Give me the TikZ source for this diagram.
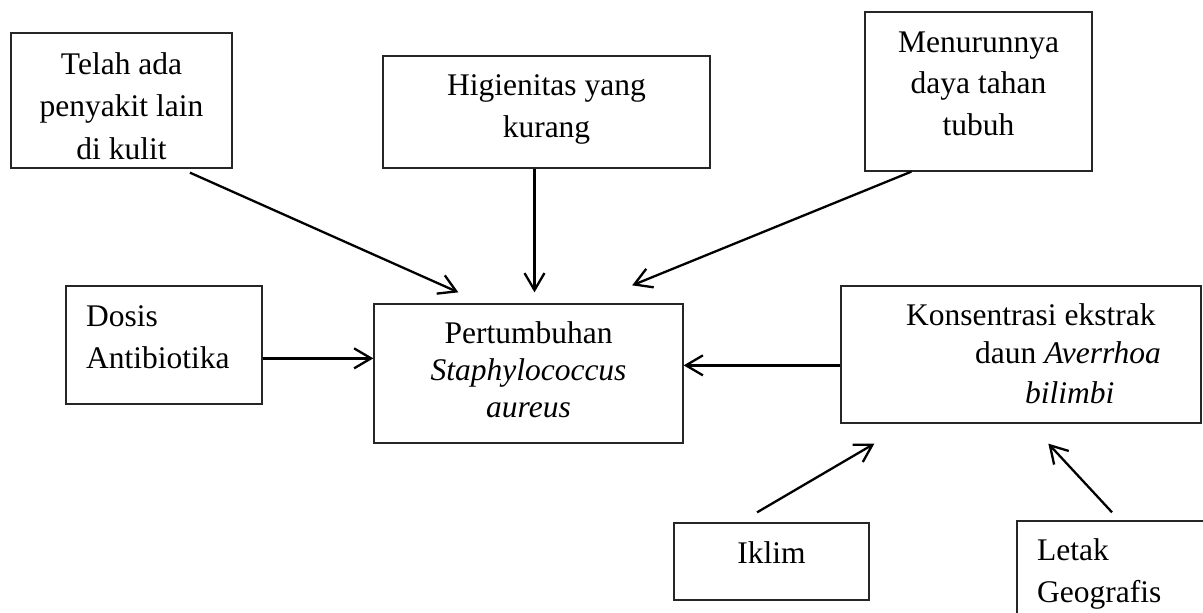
\documentclass[tikz,border=0pt]{standalone}
\usepackage{fontspec}
\setmainfont{Liberation Serif}
\usetikzlibrary{arrows.meta,calc}
\begin{document}
\begin{tikzpicture}[x=1pt,y=-1pt,
  box/.style={draw=black!85,line width=1.3pt,rectangle,inner sep=0pt,anchor=center},
  txt/.style={inner sep=0pt,font=\fontsize{31.5}{38}\selectfont,anchor=base},
  txtw/.style={txt,anchor=base west},
  arr/.style={line width=2.3pt,-{Straight Barb[length=17pt,width=20pt,line width=2.3pt]}}]
\useasboundingbox (0,0) rectangle (1203,613);
\fill[white] (0,0) rectangle (1203,613);
\clip (0,0) rectangle (1203,613);
% boxes
\node[box,minimum width=221pt,minimum height=135pt] (b1) at (121.5,100.5) {};
\node[box,minimum width=327pt,minimum height=112pt] (b2) at (546.5,112) {};
\node[box,minimum width=227pt,minimum height=159pt] (b3) at (978.5,91.5) {};
\node[box,minimum width=196pt,minimum height=118pt] (b4) at (164,345) {};
\node[box,minimum width=309pt,minimum height=139pt] (b5) at (528.5,373.5) {};
\node[box,minimum width=360pt,minimum height=137pt] (b6) at (1021,354.5) {};
\node[box,minimum width=195pt,minimum height=77pt] (b7) at (771.5,561.5) {};
\node[box,minimum width=203pt,minimum height=129pt] (b8) at (1118.5,585.5) {};
% texts
\node[txt] (t1a) at (121.5,74) {Telah ada};
\node[txt] (t1b) at (121.5,116.5) {penyakit lain};
\node[txt] (t1c) at (121.5,159) {di kulit};
\node[txt] (t2a) at (546.5,95) {Higienitas yang};
\node[txt] (t2b) at (546.5,137) {kurang};
\node[txt] (t3a) at (978.5,52) {Menurunnya};
\node[txt] (t3b) at (978.5,93) {daya tahan};
\node[txt] (t3c) at (978.5,135) {tubuh};
\node[txtw] (t4a) at (86,326) {Dosis};
\node[txtw] (t4b) at (86,368) {Antibiotika};
\node[txt] (t5a) at (528.5,343) {Pertumbuhan};
\node[txt] (t5b) at (528.5,380) {\itshape Staphylococcus};
\node[txt] (t5c) at (528.5,417) {\itshape aureus};
\node[txtw] (t6a) at (906,325) {Konsentrasi ekstrak};
\node[txtw] (t6b) at (975,363) {daun \textit{Averrhoa}};
\node[txtw] (t6c) at (1025,403) {\itshape bilimbi};
\node[txt] (t7a) at (771.5,563) {Iklim};
\node[txtw] (t8a) at (1037,560) {Letak};
\node[txtw] (t8b) at (1037,602) {Geografis};
% connector end points
\coordinate (a1s) at ($(b1.south west)+(179.6,4)$);
\coordinate (a1e) at ($(b5.north west)+(85,-11)$);
\coordinate (a2s) at ($(b2.south)+(-12,0)$);
\coordinate (a2e) at ($(b5.north)+(6,-11)$);
\coordinate (a3s) at ($(b3.south west)+(47,0)$);
\coordinate (a3e) at ($(b5.north east)+(-51.5,-18)$);
\coordinate (a4s) at ($(b4.north east)+(0,73)$);
\coordinate (a5s) at ($(b6.north west)+(0,80)$);
\coordinate (a6s) at ($(b7.north west)+(83.7,-10)$);
\coordinate (a6e) at ($(b6.south west)+(34,20)$);
\coordinate (a7s) at ($(b8.north west)+(95.7,-8)$);
\coordinate (a7e) at ($(b6.south west)+(208,20)$);
% connectors
\draw[arr] (a1s) -- (a1e);
\draw[arr] (a2s) -- (a2e);
\draw[arr] (a3s) -- (a3e);
\draw[arr] (a4s) -- (a4s -| b5.west);
\draw[arr] (a5s) -- (a5s -| b5.east);
\draw[arr] (a6s) -- (a6e);
\draw[arr] (a7s) -- (a7e);
\end{tikzpicture}
\end{document}
